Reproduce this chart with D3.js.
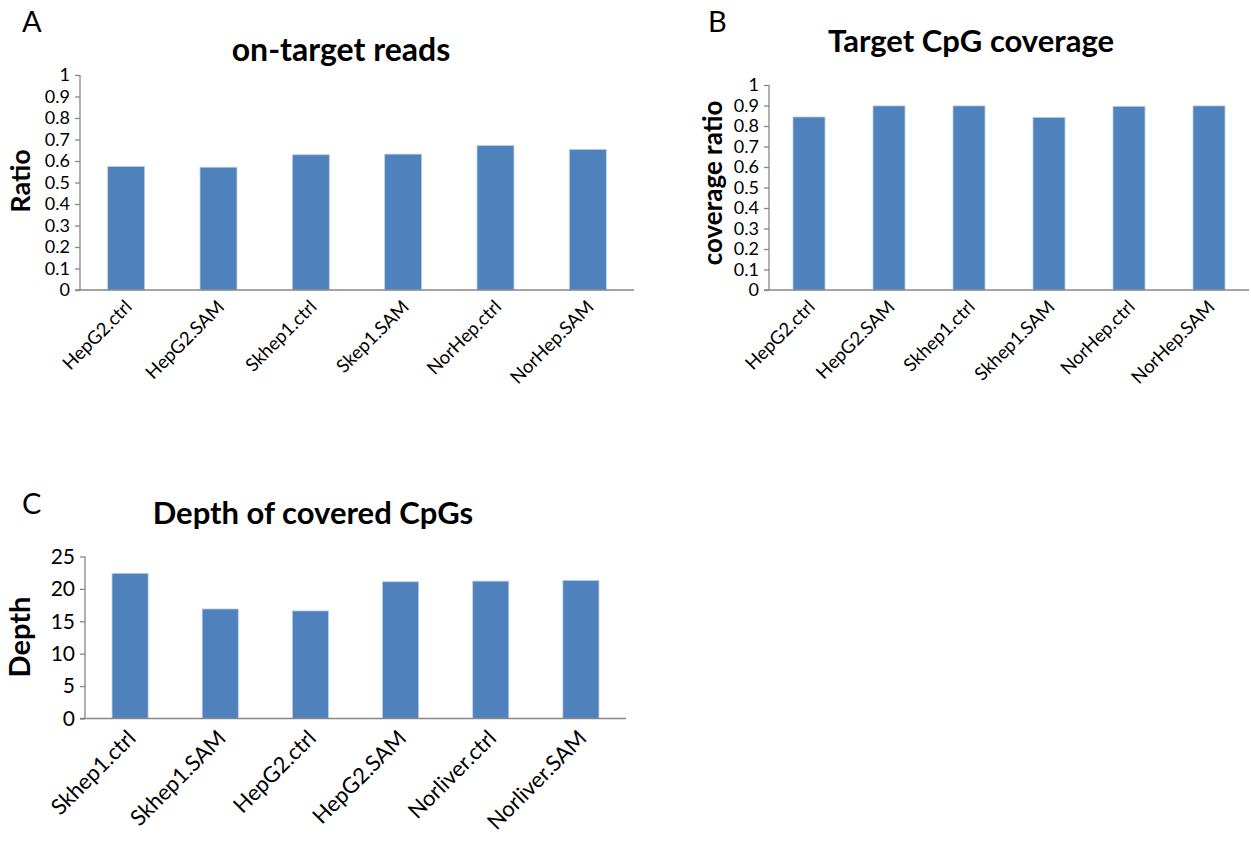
<!DOCTYPE html>
<html>
<head>
<meta charset="utf-8">
<script src="https://cdn.jsdelivr.net/npm/d3@7"></script>
<style>
  html, body { margin: 0; padding: 0; background: #fff; }
  svg { display: block; }
  text { font-family: Lato, "Open Sans", sans-serif; fill: #000; }
</style>
</head>
<body>
<svg id="chart" width="1251" height="841"></svg>
<script>
// ---- Data ----
const categoriesA = ["HepG2.ctrl", "HepG2.SAM", "Skhep1.ctrl", "Skep1.SAM", "NorHep.ctrl", "NorHep.SAM"];
const valuesA = [0.574, 0.571, 0.629, 0.632, 0.672, 0.654];
const ticksA = [0, 0.1, 0.2, 0.3, 0.4, 0.5, 0.6, 0.7, 0.8, 0.9, 1];

const categoriesB = ["HepG2.ctrl", "HepG2.SAM", "Skhep1.ctrl", "Skhep1.SAM", "NorHep.ctrl", "NorHep.SAM"];
const valuesB = [0.844, 0.898, 0.898, 0.842, 0.896, 0.898];
const ticksB = [0, 0.1, 0.2, 0.3, 0.4, 0.5, 0.6, 0.7, 0.8, 0.9, 1];

const categoriesC = ["Skhep1.ctrl", "Skhep1.SAM", "HepG2.ctrl", "HepG2.SAM", "Norliver.ctrl", "Norliver.SAM"];
const valuesC = [22.4, 16.9, 16.6, 21.1, 21.2, 21.3];
const ticksC = [0, 5, 10, 15, 20, 25];

const svg = d3.select("#chart");
const BAR = "#4F81BD", AXIS = "#868686";

function panel(cfg) {
  const g = svg.append("g");
  const x = d3.scaleBand().domain(cfg.cats).range([cfg.x0, cfg.x1])
    .paddingInner(0.6).paddingOuter(0.3);
  const y = d3.scaleLinear().domain([0, cfg.max]).range([cfg.yb, cfg.yt]);

  // bars
  g.selectAll("rect.bar").data(cfg.vals).enter().append("rect")
    .attr("class", "bar")
    .attr("x", (d, i) => x(cfg.cats[i]))
    .attr("width", x.bandwidth())
    .attr("y", d => y(d))
    .attr("height", d => y(0) - y(d))
    .attr("fill", BAR)
    .attr("stroke", "#b9cde5").attr("stroke-width", 0.8);

  // y axis
  const ya = g.append("g").attr("transform", `translate(${cfg.x0},0)`)
    .call(d3.axisLeft(y).tickValues(cfg.ticks).tickSize(5).tickPadding(5)
      .tickFormat(d => String(d)));
  ya.select(".domain").attr("stroke", AXIS).attr("stroke-width", 1.3)
    .attr("d", `M0,${cfg.yt}V${cfg.yb}`);
  ya.selectAll(".tick line").attr("stroke", AXIS).attr("stroke-width", 1.3);
  ya.selectAll(".tick text").style("font-size", cfg.tickFont + "px").attr("fill", "#000");

  // x axis
  const xa = g.append("g").attr("transform", `translate(0,${cfg.yb})`)
    .call(d3.axisBottom(x).tickSize(0).tickPadding(0));
  xa.select(".domain").attr("stroke", AXIS).attr("stroke-width", 1.5)
    .attr("d", `M${cfg.x0 - 5},0H${cfg.x1}`);
  xa.selectAll(".tick text")
    .style("font-size", cfg.catFont + "px")
    .attr("fill", "#000")
    .attr("text-anchor", "end")
    .attr("dy", null).attr("y", null)
    .attr("transform", `translate(${cfg.catDx},${cfg.catDy}) rotate(-45)`);

  // title
  g.append("text").attr("x", cfg.titleX).attr("y", cfg.titleY)
    .attr("text-anchor", "middle").style("font-weight", "bold")
    .style("font-size", cfg.titleFont + "px").text(cfg.title);
  // panel letter
  g.append("text").attr("x", cfg.letterX).attr("y", cfg.letterY)
    .style("font-size", "29px").text(cfg.letter);
  // y label
  g.append("text")
    .attr("transform", `translate(${cfg.ylabX},${cfg.ylabY}) rotate(-90)`)
    .attr("text-anchor", "middle").style("font-weight", "bold")
    .style("font-size", cfg.ylabFont + "px").text(cfg.ylab);
}

panel({ cats: categoriesA, vals: valuesA, ticks: ticksA, max: 1,
  x0: 80, x1: 634, yt: 75, yb: 290, tickFont: 18, catFont: 18.5, catDx: 7, catDy: 18,
  title: "on-target reads", titleX: 341, titleY: 61, titleFont: 32,
  letter: "A", letterX: 22, letterY: 32,
  ylab: "Ratio", ylabX: 30, ylabY: 181, ylabFont: 27 });

panel({ cats: categoriesB, vals: valuesB, ticks: ticksB, max: 1,
  x0: 769, x1: 1249, yt: 85, yb: 290, tickFont: 18, catFont: 18.5, catDx: 7, catDy: 18,
  title: "Target CpG coverage", titleX: 971, titleY: 52, titleFont: 31,
  letter: "B", letterX: 708, letterY: 32,
  ylab: "coverage ratio", ylabX: 722, ylabY: 183, ylabFont: 26 });

panel({ cats: categoriesC, vals: valuesC, ticks: ticksC, max: 25,
  x0: 85, x1: 626, yt: 556.5, yb: 718.5, tickFont: 21, catFont: 22, catDx: 7, catDy: 21,
  title: "Depth of covered CpGs", titleX: 313, titleY: 524, titleFont: 31,
  letter: "C", letterX: 22, letterY: 514,
  ylab: "Depth", ylabX: 30, ylabY: 637, ylabFont: 29 });
</script>
</body>
</html>
